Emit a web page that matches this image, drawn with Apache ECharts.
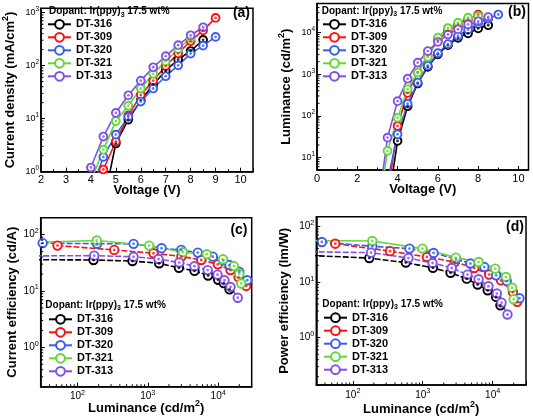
<!DOCTYPE html>
<html><head><meta charset="utf-8">
<script src="https://cdn.jsdelivr.net/npm/echarts@6.0.0/dist/echarts.min.js"></script>
<style>html,body{margin:0;padding:0;background:#fff}#c{width:533px;height:416px}</style>
</head><body><div id="c"></div>
<script>
const FONT = 'Liberation Sans, Arial, Helvetica, sans-serif';
const names = ['DT-316', 'DT-309', 'DT-320', 'DT-321', 'DT-313'];
const colors = ['#000000', '#ff1010', '#3a5cf0', '#63d63a', '#8050e8'];

// (a) current density vs voltage
const aV_316 = [4.5, 5, 5.5, 6, 6.5, 7, 7.5, 8, 8.5];
const aJ_316 = [0.25, 3.4, 9.6, 22, 44, 80, 130, 188, 305];
const aV_309 = [4.5, 5, 5.5, 6, 6.5, 7, 7.5, 8, 8.5, 9];
const aJ_309 = [1.1, 3.7, 11.5, 28, 52, 98, 170, 290, 460, 790];
const aV_320 = [4, 4.5, 5, 5.5, 6, 6.5, 7, 7.5, 8, 8.5, 9];
const aJ_320 = [0.4, 1.9, 5.0, 10.8, 21, 37, 63, 101, 168, 238, 347];
const aV_321 = [4, 4.5, 5, 5.5, 6, 6.5, 7, 7.5, 8];
const aJ_321 = [0.65, 2.6, 9.0, 17.5, 37, 70, 120, 205, 330];
const aV_313 = [4, 4.5, 5, 5.5, 6, 6.5, 7, 7.5, 8, 8.5];
const aJ_313 = [1.2, 4.6, 12.8, 27.5, 52, 93, 150, 242, 372, 527];

// (b) luminance vs voltage
const bV_316 = [3.5, 4, 4.5, 5, 5.5, 6, 6.5, 7, 7.5, 8, 8.5];
const bL_316 = [0.6, 25, 170, 600, 1500, 3000, 5000, 7500, 9600, 12600, 15000];
const bV_309 = [3.5, 4, 4.5, 5, 5.5, 6, 6.5, 7, 7.5, 8];
const bL_309 = [1.1, 57, 355, 1100, 2800, 6500, 11000, 16000, 21000, 27000];
const bV_320 = [3.5, 4, 4.5, 5, 5.5, 6, 6.5, 7, 7.5, 8, 8.5, 9];
const bL_320 = [2.7, 36, 195, 630, 1600, 3200, 5300, 8300, 11800, 16300, 21500, 27200];
const bV_321 = [3, 3.5, 4, 4.5, 5, 5.5, 6, 6.5, 7, 7.5, 8];
const bL_321 = [0.3, 14.4, 90, 435, 1100, 2600, 7600, 12900, 17400, 22900, 25000];
const bV_313 = [3, 3.5, 4, 4.5, 5, 5.5, 6, 6.5, 7, 7.5, 8, 8.5];
const bL_313 = [0.5, 30, 225, 780, 1900, 3600, 6000, 9000, 12000, 15800, 18700, 23700];

// (c) current efficiency vs luminance
const cL_316 = [25, 169, 605, 1450, 2770, 4610, 7200, 10000, 12000, 14500];
const cE_316 = [36, 35.5, 34, 31, 25.8, 22.8, 18.8, 15.8, 13.8, 10.7];
const cL_309 = [52, 333, 1205, 3000, 5750, 9900, 15000, 19500, 25000];
const cE_309 = [64, 53.6, 46.8, 41, 35.5, 29.7, 23.5, 17.5, 12.3];
const cL_320 = [32, 190, 627, 1570, 2990, 5130, 8400, 11800, 14500, 20000, 25900];
const cE_320 = [70.8, 69, 68.7, 57.5, 53.6, 48, 40.7, 35, 28.9, 21.9, 15.5];
const cL_321 = [25, 188, 1045, 3150, 6900, 11700, 16700, 20000, 21300];
const cE_321 = [73, 78.7, 64, 48.8, 45, 36.5, 27.7, 20, 13.6];
const cL_313 = [25, 173, 627, 1420, 2800, 4600, 7100, 9800, 12300, 15000, 19000];
const cE_313 = [42, 42.4, 40.5, 37, 32, 27.5, 23.5, 19.5, 15.5, 11.8, 7.6];

// (d) power efficiency vs luminance
const dL_316 = [25, 172, 573, 1400, 2500, 4260, 6100, 8500, 11200, 12900];
const dP_316 = [30, 27, 22.4, 18, 14.7, 11.5, 9, 7.1, 5.4, 3.8];
const dL_309 = [56, 340, 1150, 2870, 5460, 8900, 13200, 19500, 22500];
const dP_309 = [49, 36, 28.3, 22.9, 17.9, 13.6, 10.7, 6.6, 4.4];
const dL_320 = [36, 190, 645, 1430, 2990, 4800, 7600, 11200, 15900, 24200];
const dP_320 = [52.6, 44, 40, 33.4, 26, 21.5, 18.6, 13.2, 10.4, 5.1];
const dL_321 = [25, 190, 990, 2970, 6300, 10900, 15500, 19000, 20000];
const dP_321 = [56, 54.8, 40, 27.5, 22.9, 17.4, 12.3, 7.9, 4.9];
const dL_313 = [25, 182, 625, 1380, 2600, 4360, 6300, 8700, 11500, 13400, 16300];
const dP_313 = [35, 33.8, 27, 22, 17.9, 13.6, 11.2, 8.4, 6.2, 4.25, 2.6];

const panelX = [
  [aV_316, aV_309, aV_320, aV_321, aV_313],
  [bV_316, bV_309, bV_320, bV_321, bV_313],
  [cL_316, cL_309, cL_320, cL_321, cL_313],
  [dL_316, dL_309, dL_320, dL_321, dL_313]
];
const panelY = [
  [aJ_316, aJ_309, aJ_320, aJ_321, aJ_313],
  [bL_316, bL_309, bL_320, bL_321, bL_313],
  [cE_316, cE_309, cE_320, cE_321, cE_313],
  [dP_316, dP_309, dP_320, dP_321, dP_313]
];

// axis ranges
const xRanges = [[2, 10.5], [0, 10.5], [30, 30000], [30, 30000]];
const yRanges = [[1, 1200], [5, 50000], [0.2, 200], [0.14, 150]];
const xLog = [false, false, true, true];

const grids = [
  {left: 41, top: 8.3, width: 212, height: 163.4},
  {left: 317, top: 3.5, width: 211.5, height: 166.5},
  {left: 40.7, top: 217.7, width: 211, height: 169},
  {left: 316.3, top: 216.7, width: 209.7, height: 168.3}
];

function pow10(v) {
  const e = Math.log10(v);
  const r = Math.round(e);
  if (Math.abs(e - r) > 1e-6) return '';
  return '{b|10}{s|' + r + '}';
}
function tickRich(fs) {
  return {
    b: {fontFamily: FONT, fontSize: fs, color: '#000'},
    s: {fontFamily: FONT, fontSize: fs * 0.72, color: '#000', padding: [0, 0, 7, 0]}
  };
}
const nameRich = {
  sup: {fontFamily: FONT, fontSize: 9, fontWeight: 'bold', color: '#000', padding: [0, 0, 10, 0]}
};
const nameStyle = {fontFamily: FONT, fontSize: 13, fontWeight: 'bold', color: '#000', rich: nameRich};
const lineBlack = {color: '#000', width: 1.5};

function baseAxis(g) {
  return {
    gridIndex: g,
    axisLine: {show: true, lineStyle: lineBlack},
    axisTick: {show: true, inside: true, length: 4, lineStyle: {color: '#000', width: 1}},
    splitLine: {show: false},
    nameLocation: 'middle',
    nameMoveOverlap: false,
    nameTextStyle: nameStyle
  };
}

const xNames = ['Voltage (V)', 'Voltage (V)', 'Luminance (cd/m{sup|2})', 'Luminance (cd/m{sup|2})'];
const yNames = ['Current density (mA/cm{sup|2})', 'Luminance (cd/m{sup|2})', 'Current efficiency (cd/A)', 'Power efficiency (lm/W)'];
const xGaps = [12, 13, 12, 15];
const yGaps = [21, 21, 22, 25];

const xAxes = [], yAxes = [];
for (let g = 0; g < 4; g++) {
  const xa = Object.assign(baseAxis(g), {
    min: xRanges[g][0], max: xRanges[g][1],
    name: xNames[g], nameGap: xGaps[g]
  });
  if (xLog[g]) {
    Object.assign(xa, {type: 'log', logBase: 10,
      axisLabel: {formatter: pow10, rich: tickRich(10), margin: 3, color: '#000'}});
  } else {
    Object.assign(xa, {type: 'value', interval: g === 0 ? 1 : 2,
      minorTick: {show: true, splitNumber: 2, length: 2.5, lineStyle: {color: '#000', width: 1}},
      axisLabel: {fontFamily: FONT, fontSize: 11, color: '#000', margin: 3, showMaxLabel: false}});
  }
  xAxes.push(xa);
  const ya = Object.assign(baseAxis(g), {
    type: 'log', logBase: 10,
    min: yRanges[g][0], max: yRanges[g][1],
    name: yNames[g], nameGap: yGaps[g], nameRotate: 90,
    axisLabel: {formatter: pow10, rich: tickRich(g < 2 ? 9 : 10), margin: 2, color: '#000'}
  });
  yAxes.push(ya);
}

function logMinor(min, max) {
  const out = [];
  for (let e = Math.floor(Math.log10(min)); e <= Math.ceil(Math.log10(max)); e++) {
    for (let k = 2; k <= 9; k++) {
      const v = k * Math.pow(10, e);
      if (v > min * 1.0001 && v < max * 0.9999) out.push(v);
    }
  }
  return out;
}

const series = [];
for (let g = 0; g < 4; g++) {
  const dashed = g >= 2;
  const size = g >= 2 ? 8.5 : 7.8;
  for (let i = 0; i < 5; i++) {
    const data = panelX[g][i].map((x, k) => [x, panelY[g][i][k]]);
    series.push({
      type: 'line', name: names[i], xAxisIndex: g, yAxisIndex: g, data: data,
      symbol: 'circle', symbolSize: size, clip: true, animation: false, z: 2,
      lineStyle: {color: colors[i], width: 1.6, type: (dashed && i !== 3) ? [6, 2] : 'solid'},
      itemStyle: {color: '#fff', borderColor: colors[i], borderWidth: 1.9},
      emphasis: {disabled: true}, silent: true
    });
    series.push({
      type: 'scatter', name: names[i], xAxisIndex: g, yAxisIndex: g, data: data,
      symbol: 'circle', symbolSize: 2.8, clip: true, animation: false, z: 4,
      itemStyle: {color: colors[i]}, emphasis: {disabled: true}, silent: true
    });
  }
  // log minor ticks along log axes
  const mdata = [];
  if (xLog[g]) logMinor(xRanges[g][0], xRanges[g][1]).forEach(v => mdata.push([v, yRanges[g][0], 0]));
  logMinor(yRanges[g][0], yRanges[g][1]).forEach(v => mdata.push([xRanges[g][0], v, 1]));
  series.push({
    type: 'custom', name: 'minor' + g, xAxisIndex: g, yAxisIndex: g, data: mdata,
    silent: true, animation: false, z: 10, clip: false,
    renderItem: function (params, api) {
      const p = api.coord([api.value(0), api.value(1)]);
      const horiz = api.value(2) === 1;
      return {
        type: 'line',
        shape: horiz ? {x1: p[0], y1: p[1], x2: p[0] + 2.5, y2: p[1]} : {x1: p[0], y1: p[1], x2: p[0], y2: p[1] - 2.5},
        style: {stroke: '#000', lineWidth: 1}
      };
    }
  });
}

const legendPos = [[47, 18.8], [322, 18.8], [48, 313.8], [323, 312.2]];
const legends = legendPos.map(p => ({
  orient: 'vertical', left: p[0], top: p[1], padding: 0,
  itemWidth: 23, itemHeight: 11, itemGap: 2, selectedMode: false,
  data: names,
  textStyle: {fontFamily: FONT, fontSize: 11, fontWeight: 'bold', color: '#000'}
}));

function dopant(x, y) {
  return {
    type: 'text', x: x, y: y, silent: true,
    style: {
      text: 'Dopant: Ir(ppy){s|3} 17.5 wt%', fontFamily: FONT, fontSize: 10, fontWeight: 'bold',
      fill: '#000', verticalAlign: 'middle', align: 'left',
      rich: {s: {fontFamily: FONT, fontSize: 7, fontWeight: 'bold', padding: [6, 0, 0, 0]}}
    }
  };
}
function panelLabel(t, x, y) {
  return {
    type: 'text', x: x, y: y, silent: true,
    style: {text: t, fontFamily: FONT, fontSize: 14, fontWeight: 'bold', fill: '#000', align: 'right', verticalAlign: 'middle'}
  };
}

const chart = echarts.init(document.getElementById('c'), null, {renderer: 'canvas'});
chart.setOption({
  animation: false,
  backgroundColor: '#fff',
  grid: grids.map(g => Object.assign({show: true, borderColor: '#000', borderWidth: 1.5, backgroundColor: 'transparent', containLabel: false, outerBoundsMode: 'none'}, g)),
  xAxis: xAxes,
  yAxis: yAxes,
  legend: legends,
  series: series,
  graphic: [
    dopant(49, 11.7), dopant(321.7, 11), dopant(45.3, 305), dopant(322.3, 304),
    panelLabel('(a)', 250, 12.7), panelLabel('(b)', 526, 12.5), panelLabel('(c)', 247.5, 230), panelLabel('(d)', 524, 227.3)
  ]
});
</script></body></html>
